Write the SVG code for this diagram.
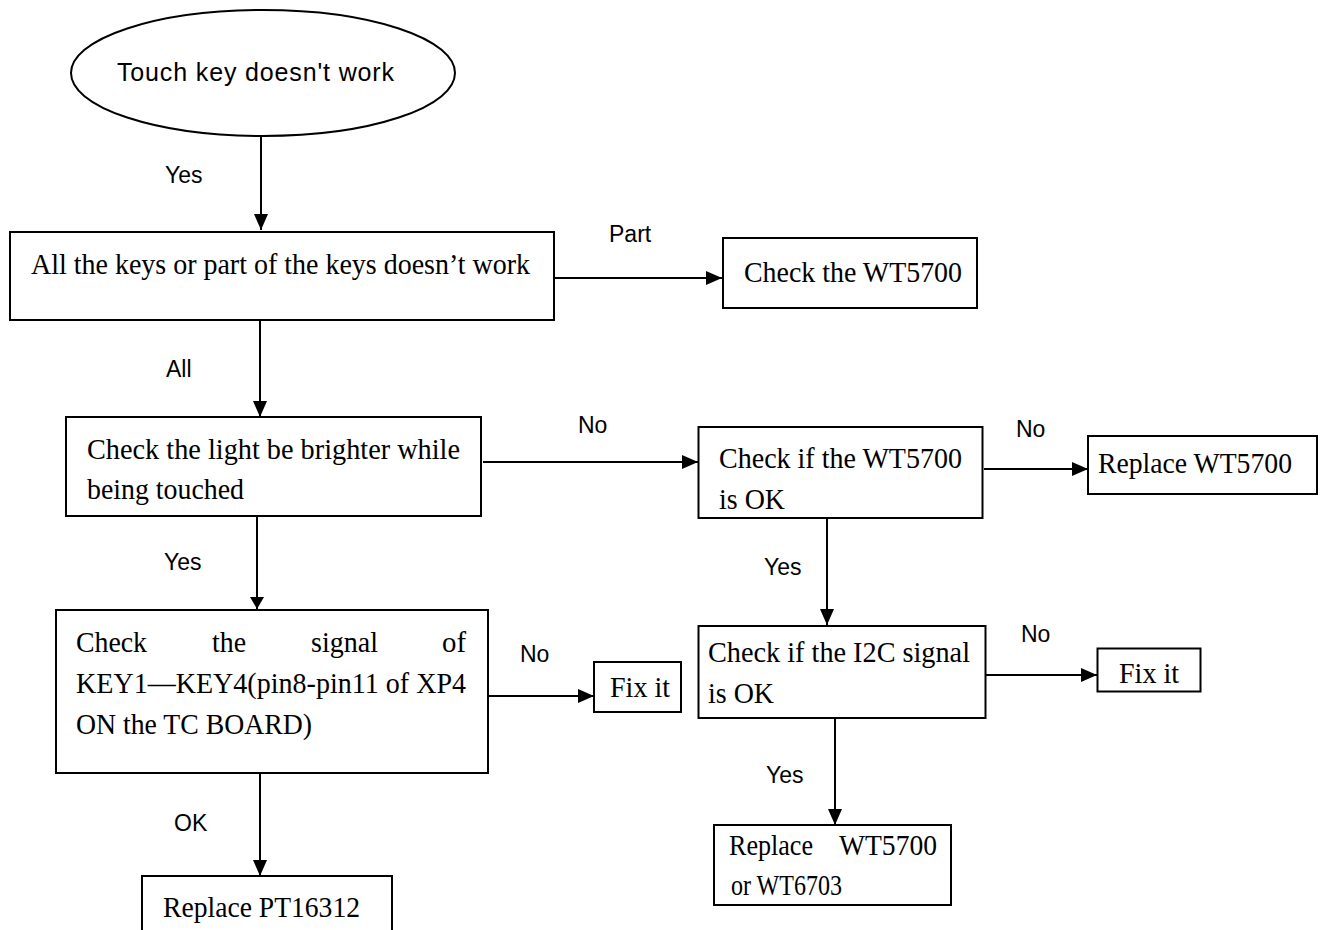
<svg xmlns="http://www.w3.org/2000/svg" width="1325" height="930" viewBox="0 0 1325 930">
<defs>
<style>
.box{fill:#fff;stroke:#000;stroke-width:2}
.t{font-family:"Liberation Serif","Times New Roman",serif;font-size:30px;fill:#000}
.lbl{font-family:"Liberation Sans",Arial,sans-serif;font-size:23px;fill:#000}
.sans{font-family:"Liberation Sans",Arial,sans-serif;font-size:25px;fill:#000}
.c{fill:none;stroke:#000;stroke-width:2}
</style>
<marker id="ah" markerUnits="userSpaceOnUse" markerWidth="16" markerHeight="14" refX="16" refY="7" orient="auto">
<path d="M0,0 L16,7 L0,14 z" fill="#000"/>
</marker>
<marker id="ahs" markerUnits="userSpaceOnUse" markerWidth="12" markerHeight="14" refX="12" refY="7" orient="auto">
<path d="M0,0 L12,7 L0,14 z" fill="#000"/>
</marker>
</defs>
<rect width="1325" height="930" fill="#fff"/>

<g id="connectors">
<line class="c" x1="261" y1="137" x2="261" y2="230" marker-end="url(#ah)"/>
<line class="c" x1="555" y1="278" x2="722" y2="278" marker-end="url(#ah)"/>
<line class="c" x1="260" y1="320" x2="260" y2="417" marker-end="url(#ah)"/>
<line class="c" x1="483" y1="462" x2="698" y2="462" marker-end="url(#ah)"/>
<line class="c" x1="984" y1="469" x2="1088" y2="469" marker-end="url(#ah)"/>
<line class="c" x1="257" y1="516" x2="257" y2="609" marker-end="url(#ahs)"/>
<line class="c" x1="827" y1="518" x2="827" y2="625" marker-end="url(#ah)"/>
<line class="c" x1="489" y1="696" x2="594" y2="696" marker-end="url(#ah)"/>
<line class="c" x1="986" y1="675" x2="1097" y2="675" marker-end="url(#ah)"/>
<line class="c" x1="260" y1="773" x2="260" y2="876" marker-end="url(#ah)"/>
<line class="c" x1="835" y1="718" x2="835" y2="825" marker-end="url(#ah)"/>
<text class="lbl" x="165" y="183">Yes</text>
<text class="lbl" x="609" y="242">Part</text>
<text class="lbl" x="166" y="377">All</text>
<text class="lbl" x="578" y="433">No</text>
<text class="lbl" x="1016" y="437">No</text>
<text class="lbl" x="164" y="570">Yes</text>
<text class="lbl" x="764" y="575">Yes</text>
<text class="lbl" x="520" y="662">No</text>
<text class="lbl" x="1021" y="642">No</text>
<text class="lbl" x="766" y="783">Yes</text>
<text class="lbl" x="174" y="831">OK</text>
</g>

<g id="start">
<ellipse cx="263" cy="73" rx="192" ry="63" class="box"/>
<text class="sans" x="117" y="81" textLength="277">Touch key doesn't work</text>
</g>

<g id="allkeys">
<rect class="box" x="10" y="232" width="544" height="88"/>
<text class="t" x="31" y="274" textLength="499" lengthAdjust="spacingAndGlyphs">All the keys or part of the keys doesn’t work</text>
</g>

<g id="checkwt5700">
<rect class="box" x="723" y="238" width="254" height="70"/>
<text class="t" x="744" y="282" textLength="218" lengthAdjust="spacingAndGlyphs">Check the WT5700</text>
</g>

<g id="checklight">
<rect class="box" x="66" y="417" width="415" height="99"/>
<text class="t" x="87" y="459" textLength="373" lengthAdjust="spacingAndGlyphs">Check the light be brighter while</text>
<text class="t" x="87" y="499" textLength="157" lengthAdjust="spacingAndGlyphs">being touched</text>
</g>

<g id="wt5700ok">
<rect class="box" x="698.5" y="427" width="284" height="91"/>
<text class="t" x="719" y="468" textLength="243" lengthAdjust="spacingAndGlyphs">Check if the WT5700</text>
<text class="t" x="719" y="509" textLength="66" lengthAdjust="spacingAndGlyphs">is OK</text>
</g>

<g id="replacewt5700">
<rect class="box" x="1088" y="436" width="229" height="58"/>
<text class="t" x="1098" y="473" textLength="194" lengthAdjust="spacingAndGlyphs">Replace WT5700</text>
</g>

<g id="checksignal">
<rect class="box" x="56" y="610" width="432" height="163"/>
<text class="t" x="76" y="652" textLength="71" lengthAdjust="spacingAndGlyphs">Check</text>
<text class="t" x="212" y="652" textLength="34" lengthAdjust="spacingAndGlyphs">the</text>
<text class="t" x="311" y="652" textLength="67" lengthAdjust="spacingAndGlyphs">signal</text>
<text class="t" x="442" y="652" textLength="24" lengthAdjust="spacingAndGlyphs">of</text>
<text class="t" x="76" y="693" textLength="390" lengthAdjust="spacingAndGlyphs">KEY1—KEY4(pin8-pin11 of XP4</text>
<text class="t" x="76" y="734" textLength="236" lengthAdjust="spacingAndGlyphs">ON the TC BOARD)</text>
</g>

<g id="fixit1">
<rect class="box" x="594" y="662" width="87" height="50"/>
<text class="t" x="610" y="697" textLength="60" lengthAdjust="spacingAndGlyphs">Fix it</text>
</g>

<g id="i2c">
<rect class="box" x="698.5" y="626" width="287" height="92"/>
<text class="t" x="708" y="662" textLength="262" lengthAdjust="spacingAndGlyphs">Check if the I2C signal</text>
<text class="t" x="708" y="703" textLength="66" lengthAdjust="spacingAndGlyphs">is OK</text>
</g>

<g id="fixit2">
<rect class="box" x="1097.5" y="648.5" width="103" height="43"/>
<text class="t" x="1119" y="683" textLength="60" lengthAdjust="spacingAndGlyphs">Fix it</text>
</g>

<g id="replaceor">
<rect class="box" x="714" y="825" width="237" height="80"/>
<text class="t" x="729" y="855" textLength="84" lengthAdjust="spacingAndGlyphs">Replace</text>
<text class="t" x="839" y="855" textLength="98" lengthAdjust="spacingAndGlyphs">WT5700</text>
<text class="t" x="731" y="895" textLength="111" lengthAdjust="spacingAndGlyphs">or WT6703</text>
</g>

<g id="replacept">
<rect class="box" x="142" y="876" width="250" height="70"/>
<text class="t" x="163" y="917" textLength="197" lengthAdjust="spacingAndGlyphs">Replace PT16312</text>
</g>
</svg>
